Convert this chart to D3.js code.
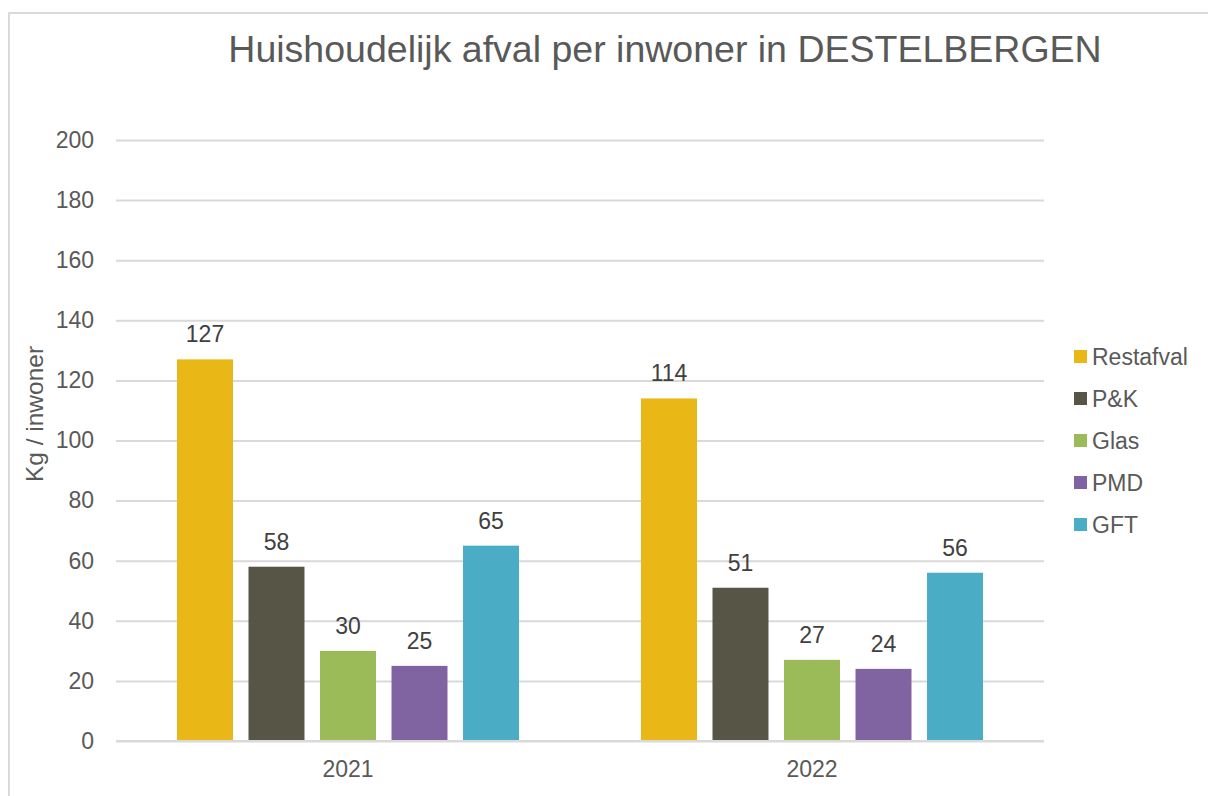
<!DOCTYPE html>
<html lang="nl">
<head>
    <meta charset="UTF-8">
    <script src="https://d3js.org/d3.v7.min.js"></script>
    <style>
        body {margin: 0; background-color: #ffffff}
        svg {display: block; font-family: "Liberation Sans", Arial, sans-serif;}
    </style>
</head>
<body>
<svg class="chart"></svg>
<script type="text/javascript">
    // data
    const years = ['2021', '2022'];
    const series = ['Restafval', 'P&K', 'Glas', 'PMD', 'GFT'];
    const colours = ['#E9B816', '#575546', '#9BBB59', '#8064A2', '#4BACC6'];
    const restafval = [127, 114];
    const pk = [58, 51];
    const glas = [30, 27];
    const pmd = [25, 24];
    const gft = [65, 56];
    const y_ticks = [0, 20, 40, 60, 80, 100, 120, 140, 160, 180, 200];

    const values = [restafval, pk, glas, pmd, gft];
    let rows = [];
    years.forEach((yr, i) => {
        series.forEach((s, j) => rows.push({year: yr, name: s, value: values[j][i]}));
    });

    let chart_width = 1208, chart_height = 796;
    let plot_left = 116, plot_right = 1044, plot_top = 140, plot_bottom = 741;

    var svg = d3.select('.chart')
        .attr('width', chart_width)
        .attr('height', chart_height);

    // outer frame
    svg.append('rect')
        .attr('x', 9).attr('y', 13)
        .attr('width', 1220).attr('height', 800)
        .attr('fill', 'none')
        .attr('stroke', '#d9d9d9')
        .attr('stroke-width', 2);

    var x0 = d3.scaleBand().domain(years).range([plot_left, plot_right]);
    var x1 = d3.scaleBand().domain(series).range([0, x0.bandwidth()])
        .paddingInner(0.217).paddingOuter(0.853);
    var y = d3.scaleLinear().domain([0, 200]).range([plot_bottom, plot_top]);
    var colour = d3.scaleOrdinal().domain(series).range(colours);

    // grid + y labels
    var yAxis = svg.append('g')
        .attr('transform', 'translate(' + plot_left + ',0)')
        .call(d3.axisLeft(y).tickValues(y_ticks).tickSize(-(plot_right - plot_left)).tickPadding(22));
    yAxis.select('.domain').remove();
    yAxis.selectAll('line').attr('stroke', '#d9d9d9').attr('stroke-width', 2);
    yAxis.selectAll('text')
        .attr('fill', '#595959')
        .style('font-size', '23px')
        .style('font-family', '"Liberation Sans", Arial, sans-serif');

    // bars
    svg.append('g').selectAll('rect').data(rows).enter().append('rect')
        .attr('x', d => x0(d.year) + x1(d.name))
        .attr('y', d => y(d.value))
        .attr('width', x1.bandwidth())
        .attr('height', d => y(0) - y(d.value))
        .attr('fill', d => colour(d.name));

    // value labels
    svg.append('g').selectAll('text').data(rows).enter().append('text')
        .attr('x', d => x0(d.year) + x1(d.name) + x1.bandwidth() / 2)
        .attr('y', d => y(d.value) - 17)
        .attr('text-anchor', 'middle')
        .attr('fill', '#404040')
        .style('font-size', '23px')
        .text(d => d.value);

    // baseline
    svg.append('line')
        .attr('x1', plot_left).attr('x2', plot_right)
        .attr('y1', y(0)).attr('y2', y(0))
        .attr('stroke', '#d9d9d9').attr('stroke-width', 2);

    // x labels
    var xAxis = svg.append('g')
        .attr('transform', 'translate(0,' + plot_bottom + ')')
        .call(d3.axisBottom(x0).tickSize(0).tickPadding(20));
    xAxis.select('.domain').remove();
    xAxis.selectAll('text')
        .attr('fill', '#595959')
        .style('font-size', '23px')
        .style('font-family', '"Liberation Sans", Arial, sans-serif');

    // title
    svg.append('text')
        .attr('x', 665).attr('y', 62)
        .attr('text-anchor', 'middle')
        .attr('fill', '#595959')
        .style('font-size', '37.5px')
        .text('Huishoudelijk afval per inwoner in DESTELBERGEN');

    // y title
    svg.append('text')
        .attr('transform', 'translate(43,414) rotate(-90)')
        .attr('text-anchor', 'middle')
        .attr('fill', '#595959')
        .style('font-size', '24.5px')
        .text('Kg / inwoner');

    // legend
    var legend = svg.append('g').selectAll('g').data(series).enter().append('g')
        .attr('transform', (d, i) => 'translate(1074,' + (357 + i * 42) + ')');
    legend.append('rect')
        .attr('x', 0).attr('y', -7)
        .attr('width', 13).attr('height', 13)
        .attr('fill', d => colour(d));
    legend.append('text')
        .attr('x', 18).attr('y', 8)
        .attr('fill', '#595959')
        .style('font-size', '23px')
        .text(d => d);
</script>
</body>
</html>
